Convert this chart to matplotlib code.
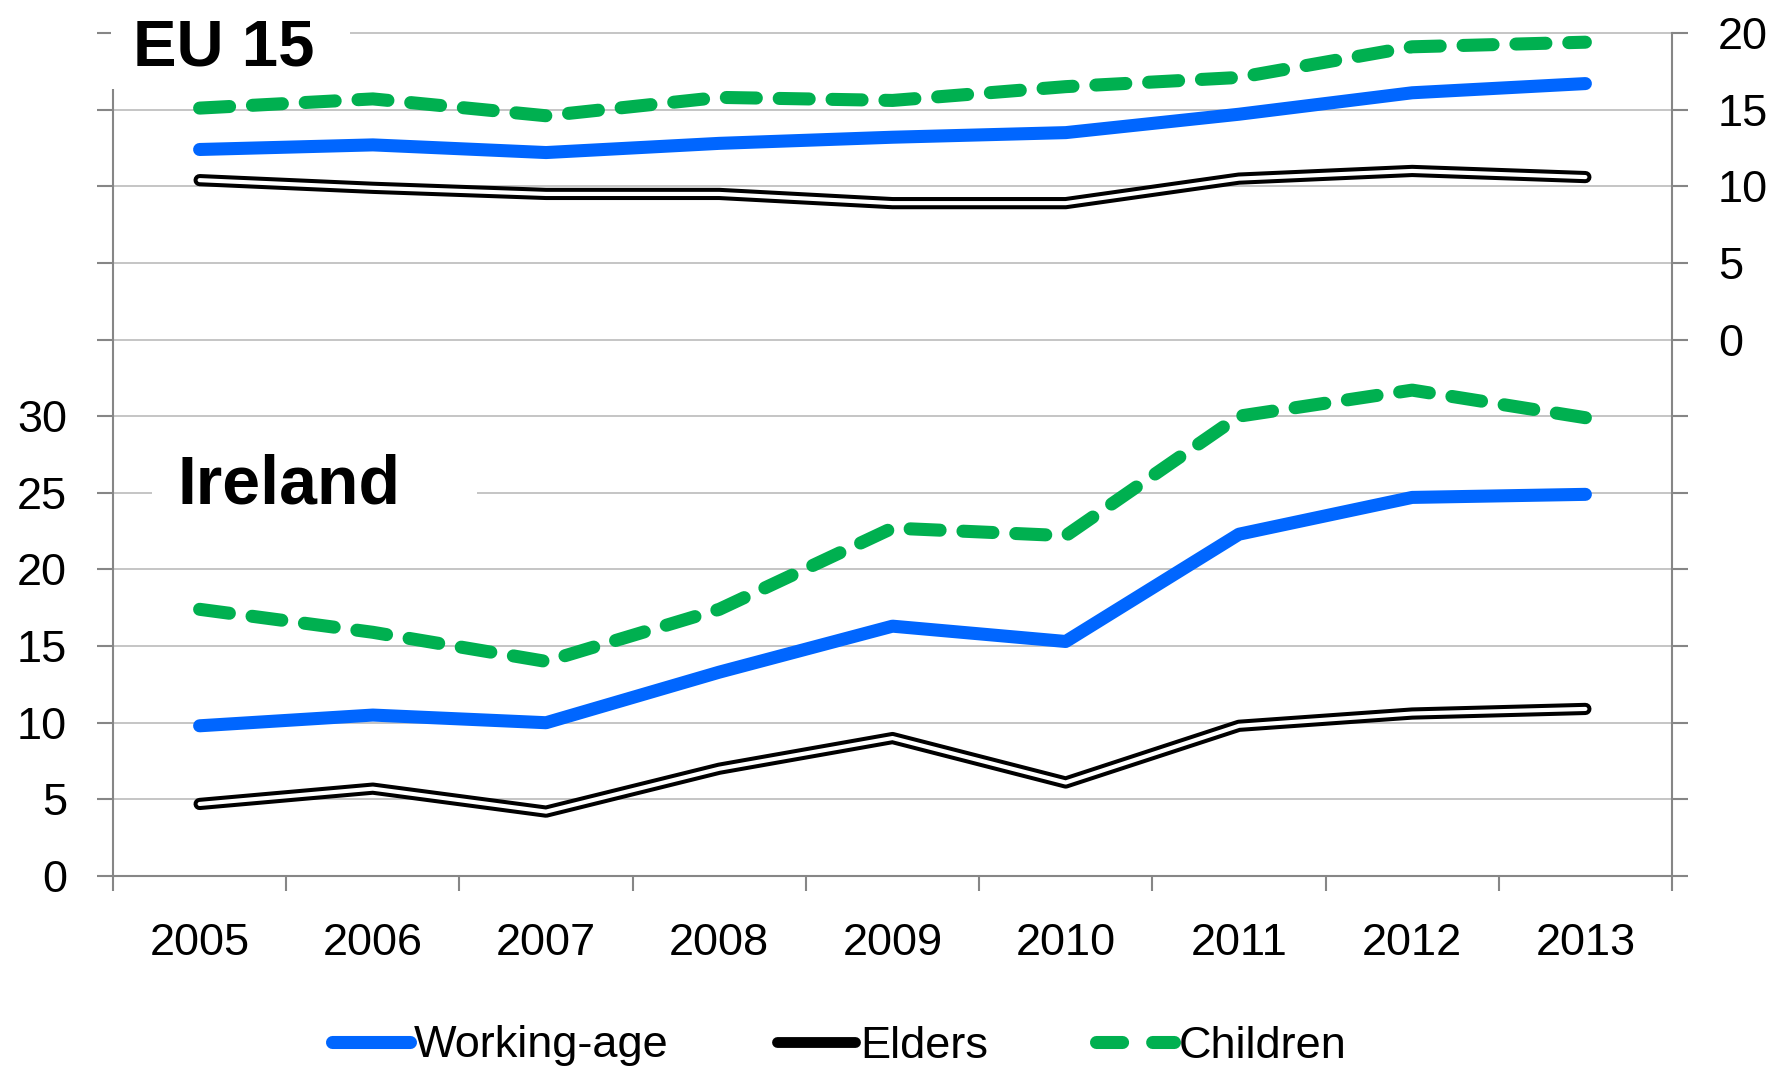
import numpy as np
import matplotlib
matplotlib.use("Agg")
import matplotlib.pyplot as plt
import matplotlib.patheffects as pe
from matplotlib.lines import Line2D
from matplotlib.patches import Rectangle

plt.rcParams['font.family'] = ['Liberation Sans', 'DejaVu Sans']

years = ['2005', '2006', '2007', '2008', '2009', '2010', '2011', '2012', '2013']

# Ireland (left axis)
ie_working = [9.8, 10.5, 10.0, 13.3, 16.3, 15.3, 22.3, 24.7, 24.9]
ie_elders = [4.7, 5.7, 4.2, 7.0, 9.0, 6.1, 9.8, 10.6, 10.9]
ie_children = [17.4, 15.9, 14.0, 17.4, 22.7, 22.2, 30.0, 31.7, 29.9]

# EU 15 (right axis)
eu_working = [12.4, 12.7, 12.2, 12.8, 13.2, 13.5, 14.7, 16.1, 16.7]
eu_elders = [10.4, 9.9, 9.5, 9.5, 8.9, 8.9, 10.5, 11.0, 10.6]
eu_children = [15.1, 15.7, 14.6, 15.8, 15.6, 16.5, 17.1, 19.1, 19.4]

blue = '#0066FF'
green = '#00B050'
axis_grey = '#868686'
grid_grey = '#C0C0C0'

W, H = 1787, 1081
fig = plt.figure(figsize=(W / 100, H / 100), dpi=100)
ax = fig.add_axes([113 / W, 1 - 876 / H, (1672 - 113) / W, (876 - 33) / H])
ax2 = ax.twinx()

x = np.arange(len(years))
lw_main = 9.4
dash = (0, (2.3, 1.75))


def elder_line(axis, vals):
    axis.plot(x, vals, color='white', lw=3.0, solid_capstyle='round',
              solid_joinstyle='round', zorder=3,
              path_effects=[pe.Stroke(linewidth=8.8, foreground='black',
                                      capstyle='round', joinstyle='round'),
                            pe.Normal()])


ax.plot(x, ie_working, color=blue, lw=lw_main, solid_capstyle='round', zorder=3)
elder_line(ax, ie_elders)
ax.plot(x, ie_children, color=green, lw=lw_main, linestyle=dash,
        dash_capstyle='round', zorder=3)

ax2.plot(x, eu_working, color=blue, lw=lw_main, solid_capstyle='round', zorder=3)
elder_line(ax2, eu_elders)
ax2.plot(x, eu_children, color=green, lw=lw_main, linestyle=dash,
         dash_capstyle='round', zorder=3)

ax.set_xlim(-0.5, 8.5)
ax.set_ylim(0, 55)
ax2.set_ylim(-35, 20)

# left axis: ticks at every gridline, labels only 0-30
lticks = np.arange(0, 56, 5)
ax.set_yticks(lticks)
ax.set_yticklabels([str(t) if t <= 30 else '' for t in lticks])
rticks = np.arange(-35, 21, 5)
ax2.set_yticks(rticks)
ax2.set_yticklabels([str(t) if t >= 0 else '' for t in rticks])

ax.set_xticks(np.arange(-0.5, 9, 1))
ax.set_xticklabels([])
ax.set_xticks(x, minor=True)
ax.set_xticklabels(years, minor=True)

ax.grid(axis='y', color=grid_grey, lw=1.3)
for gl in ax.get_ygridlines():
    gl.set_clip_on(False)
ax.set_axisbelow(True)

for a in (ax, ax2):
    for s in a.spines.values():
        s.set_color(axis_grey)
        s.set_linewidth(1.5)
    a.spines['top'].set_visible(False)
ax.spines['right'].set_visible(False)
ax2.spines['left'].set_visible(False)
ax2.spines['bottom'].set_visible(False)

ax.tick_params(axis='y', which='major', length=11.5, width=1.5, color=axis_grey,
               pad=21.5, labelsize=32.5)
ax2.tick_params(axis='y', which='major', length=11.5, width=1.5, color=axis_grey,
                pad=21.5, labelsize=32.5)
ax.tick_params(axis='x', which='major', length=10.8, width=1.5, color=axis_grey)
ax.tick_params(axis='x', which='minor', length=0, pad=33.8, labelsize=32.5)

# white label boxes that break the gridlines
ax2.add_patch(Rectangle((111 / W, 1 - 89 / H), (350 - 111) / W, 80 / H,
                        transform=fig.transFigure, facecolor='white',
                        edgecolor='none', clip_on=False, zorder=4))
ax2.add_patch(Rectangle((152 / W, 1 - 530 / H), (477 - 152) / W, 100 / H,
                        transform=fig.transFigure, facecolor='white',
                        edgecolor='none', clip_on=False, zorder=4))
ax2.text(133 / W, 1 - 66 / H, 'EU 15', transform=fig.transFigure,
         fontsize=47, fontweight='bold', ha='left', va='baseline', zorder=5)
ax2.text(177 / W, 1 - 503 / H, 'Ireland', transform=fig.transFigure,
         fontsize=49, fontweight='bold', ha='left', va='baseline', zorder=5)

handles = [
    Line2D([], [], color=blue, lw=lw_main, solid_capstyle='round'),
    Line2D([], [], color='black', lw=7.8, solid_capstyle='round'),
    Line2D([], [], color=green, lw=lw_main, linestyle=(0, (2.0, 2.3)),
           dash_capstyle='round'),
]
fig.legend(handles, ['Working-age', 'Elders', 'Children'], ncol=3,
           loc='center', bbox_to_anchor=(839 / W, 1 - 1046 / H),
           frameon=False, fontsize=32.5, handlelength=1.73,
           handletextpad=0.1, columnspacing=2.4)

fig.savefig('out.png', dpi=100)
